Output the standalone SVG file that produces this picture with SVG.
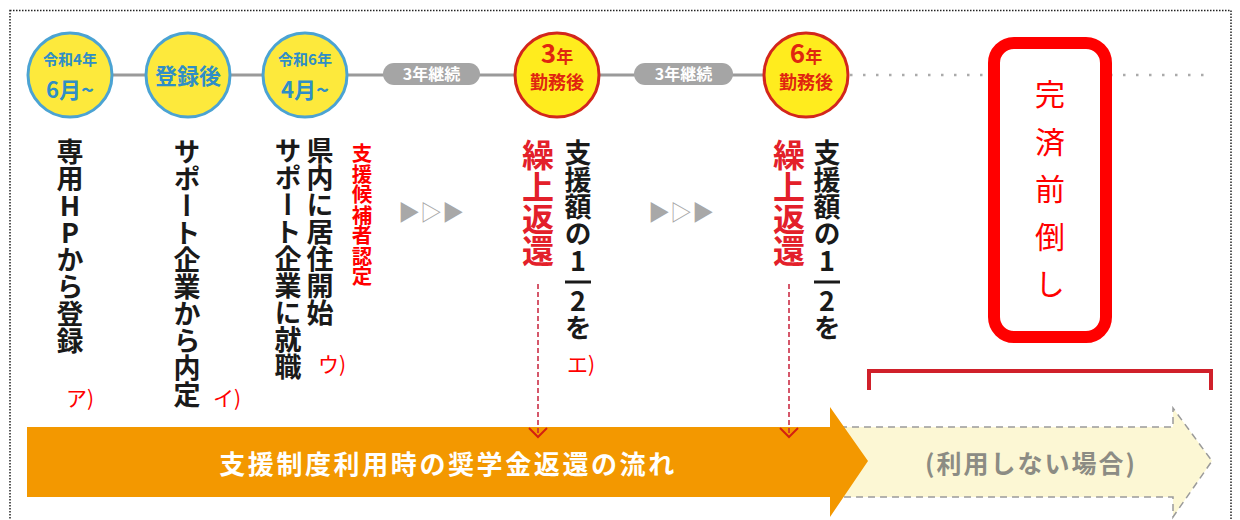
<svg xmlns="http://www.w3.org/2000/svg" width="1240" height="520" viewBox="0 0 1240 520">
<defs>
<style>
text{font-family:"Noto Sans CJK JP","Noto Sans",sans-serif;}
.v{writing-mode:vertical-rl;text-orientation:upright;}
.blk{font-size:27px;font-weight:bold;fill:#1a1a1a;}
.ctb{fill:#fde93c;stroke:#4ba3d3;stroke-width:3;}
.ctr{fill:#ffec1e;stroke:#d3261c;stroke-width:3;}
.tb{fill:#2f8ec6;font-weight:bold;text-anchor:middle;}
.tr{fill:#e0260f;font-weight:bold;text-anchor:middle;}
.pill{fill:#a5a5a5;}
.pt{fill:#fff;font-size:16px;font-weight:bold;text-anchor:middle;}
.lab{fill:#ff0000;font-size:21px;}
.tri{fill:#a8a8a8;font-size:22px;}
.rd{fill:#e3202a;font-size:32px;font-weight:bold;}
.dash{stroke:#c8203a;stroke-width:1.5;stroke-dasharray:5 3;fill:none;}
.chev{stroke:#d42010;stroke-width:2;fill:none;}
</style>
</defs>
<rect width="1240" height="520" fill="#fff"/>
<rect x="10" y="10.5" width="1221" height="530" fill="none" stroke="#222" stroke-width="1.5" stroke-dasharray="1.5 1.5"/>

<g id="flow-none">
  <polygon points="840,427 1173,427 1173,408 1212,461 1173,517 1173,497 840,497" fill="#fcf7d4"/>
  <path d="M840,427 H1173 V408 L1212,461 L1173,517 V497 H840" fill="none" stroke="#9a9a9a" stroke-width="1.5" stroke-dasharray="7 5"/>
  <text x="1031" y="473" font-size="25" font-weight="bold" fill="#8c8c84" text-anchor="middle" letter-spacing="2">(利用しない場合)</text>
</g>
<g id="flow-main">
  <polygon points="27,427 830,427 830,407 868,461 830,517 830,497 27,497" fill="#f39800"/>
  <text x="448" y="474" font-size="26" font-weight="bold" fill="#fff" text-anchor="middle" letter-spacing="2.6">支援制度利用時の奨学金返還の流れ</text>
</g>

<g id="connectors">
  <line x1="112" y1="75" x2="765" y2="75" stroke="#9a9a9a" stroke-width="3"/>
  <line x1="850" y1="75" x2="1212" y2="75" stroke="#aaa" stroke-width="2.5" stroke-dasharray="2.5 10.5"/>
  <line class="dash" x1="538" y1="284" x2="538" y2="436"/>
  <polyline class="chev" points="529,428 538,437 547,428"/>
  <line class="dash" x1="789" y1="284" x2="789" y2="436"/>
  <polyline class="chev" points="780,428 789,437 798,428"/>
</g>

<g id="bracket">
  <polyline points="869,390 869,371 1211,371 1211,390" fill="none" stroke="#d0202a" stroke-width="4"/>
</g>

<g id="step1">
  <circle class="ctb" cx="70" cy="75" r="42"/>
  <text class="tb" x="70" y="65" font-size="15">令和4年</text>
  <text class="tb" x="70" y="98" font-size="22">6月~</text>
  <text class="v blk" x="70" y="138">専用HPから登録</text>
  <text class="lab" x="66" y="406">ア)</text>
</g>
<g id="step2">
  <circle class="ctb" cx="188" cy="75" r="42"/>
  <text class="tb" x="188" y="84" font-size="22">登録後</text>
  <text class="v blk" x="187" y="138">サポート企業から内定</text>
  <text class="lab" x="213" y="406">イ)</text>
</g>
<g id="step3">
  <circle class="ctb" cx="305" cy="75" r="42"/>
  <text class="tb" x="305" y="65" font-size="15">令和6年</text>
  <text class="tb" x="305" y="98" font-size="22">4月~</text>
  <text class="v blk" x="320" y="137">県内に居住開始</text>
  <text class="v blk" x="288" y="137">サポート企業に就職</text>
  <text class="v" x="362" y="143" font-size="20.5" font-weight="bold" fill="#ff0000">支援候補者認定</text>
  <text class="lab" x="318" y="372">ウ)</text>
</g>
<g id="continue1">
  <rect class="pill" x="383" y="63" width="97" height="22" rx="11"/>
  <text class="pt" x="431.5" y="80">3年継続</text>
  <text class="tri" x="398" y="220">▶▷▶</text>
</g>
<g id="step4">
  <circle class="ctr" cx="557" cy="75" r="42"/>
  <text class="tr"><tspan x="557" y="63"><tspan font-size="26">3</tspan><tspan font-size="17">年</tspan></tspan><tspan x="557" y="89" font-size="18">勤務後</tspan></text>
  <text class="v rd" x="538" y="139">繰上返還</text>
  <text class="v blk" x="578" y="139">支援額の1</text>
  <line x1="565" y1="282" x2="591" y2="282" stroke="#1a1a1a" stroke-width="3"/>
  <text class="v blk" x="578" y="287">2を</text>
  <text class="lab" x="567" y="372">エ)</text>
</g>
<g id="continue2">
  <rect class="pill" x="634" y="63" width="99" height="22" rx="11"/>
  <text class="pt" x="683.5" y="80">3年継続</text>
  <text class="tri" x="648" y="220">▶▷▶</text>
</g>
<g id="step5">
  <circle class="ctr" cx="806" cy="75" r="42"/>
  <text class="tr"><tspan x="806" y="63"><tspan font-size="26">6</tspan><tspan font-size="17">年</tspan></tspan><tspan x="806" y="89" font-size="18">勤務後</tspan></text>
  <text class="v rd" x="789" y="139">繰上返還</text>
  <text class="v blk" x="827" y="139">支援額の1</text>
  <line x1="814" y1="282" x2="840" y2="282" stroke="#1a1a1a" stroke-width="3"/>
  <text class="v blk" x="827" y="287">2を</text>
</g>
<g id="early-repay">
  <rect x="994" y="43" width="112" height="294" rx="20" fill="#fff" stroke="#ff0000" stroke-width="12"/>
  <text class="v" x="1050" y="79" font-size="30" fill="#ff0000" letter-spacing="17.5">完済前倒し</text>
</g>
</svg>
